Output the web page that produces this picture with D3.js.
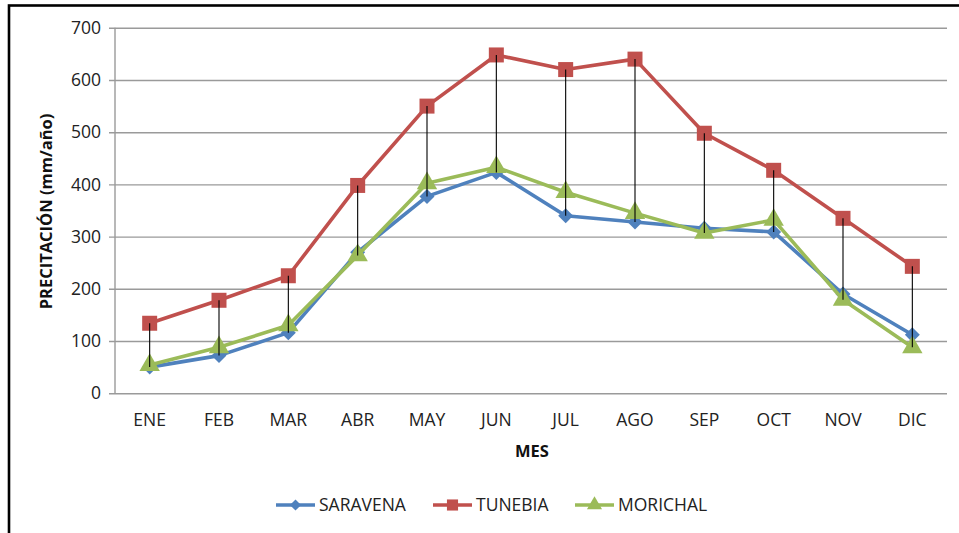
<!DOCTYPE html>
<html>
<head>
<meta charset="utf-8">
<script src="https://cdn.jsdelivr.net/npm/d3@7/dist/d3.min.js"></script>
<style>
  html, body { margin: 0; padding: 0; background: #fff; }
  svg { display: block; font-family: "Open Sans", "Liberation Sans", sans-serif; }
</style>
</head>
<body>
<svg id="chart" width="959" height="533"></svg>
<script>
const months = ["ENE","FEB","MAR","ABR","MAY","JUN","JUL","AGO","SEP","OCT","NOV","DIC"];
const saravena = [50, 72, 116, 270, 377, 423, 340, 328, 316, 309, 190, 112];
const tunebia  = [134, 178, 225, 398, 550, 648, 620, 640, 498, 427, 335, 243];
const morichal = [54, 88, 130, 264, 402, 433, 385, 345, 307, 332, 179, 88];
const yTicks = [0, 100, 200, 300, 400, 500, 600, 700];
const seriesNames = ["SARAVENA", "TUNEBIA", "MORICHAL"];
const seriesColors = ["#4F81BD", "#C0504D", "#9BBB59"];
const seriesShapes = ["diamond", "square", "triangle"];

(function () {
const svg = d3.select("#chart");

// outer frame
svg.append("rect").attr("x", 9).attr("y", 5.5).attr("width", 1200).attr("height", 1200)
  .attr("fill", "none").attr("stroke", "#000").attr("stroke-width", 2.6);

const pLeft = 115, pRight = 947, pTop = 27.8, pBottom = 393.2;
const x = d3.scaleBand().domain(months).range([pLeft, pRight]).paddingInner(0).paddingOuter(0);
const y = d3.scaleLinear().domain([0, 700]).range([pBottom, pTop]);
const cx = m => x(m) + x.bandwidth() / 2;

// gridlines + y axis
const yAxis = d3.axisLeft(y).tickValues(yTicks).tickSize(-(pRight - pLeft)).tickPadding(14);
const gy = svg.append("g").attr("transform", `translate(${pLeft},0)`).call(yAxis);
gy.select(".domain").remove();
gy.selectAll(".tick line").attr("x1", -6).attr("stroke", "#9a9a9a").attr("stroke-width", 1.4);
gy.selectAll(".tick text").attr("font-size", 17.5).attr("fill", "#222")
  .attr("font-family", "'Open Sans', sans-serif");

// vertical axis line
svg.append("line").attr("x1", pLeft).attr("x2", pLeft).attr("y1", pTop).attr("y2", pBottom)
  .attr("stroke", "#9a9a9a").attr("stroke-width", 1.4);

// x axis labels
const xAxis = d3.axisBottom(x).tickSize(0).tickPadding(20);
const gx = svg.append("g").attr("transform", `translate(0,${pBottom})`).call(xAxis);
gx.select(".domain").remove();
gx.selectAll(".tick text").attr("font-size", 17.5).attr("fill", "#222")
  .attr("font-family", "'Open Sans', sans-serif");

// axis titles
svg.append("text").attr("x", 532).attr("y", 457).attr("text-anchor", "middle")
  .attr("font-size", 16.5).attr("font-weight", "bold").attr("fill", "#111").text("MES");
svg.append("text").attr("transform", `translate(52,${(pTop + pBottom) / 2 + 1}) rotate(-90)`)
  .attr("text-anchor", "middle").attr("font-size", 16.5).attr("font-weight", "bold")
  .attr("fill", "#111").text("PRECITACIÓN (mm/año)");

const allSeries = [saravena, tunebia, morichal];

function markerPath(shape, scale) {
  if (shape === "diamond") return d3.symbol().type(d3.symbolSquare).size(112 * scale)();
  if (shape === "square") return d3.symbol().type(d3.symbolSquare).size(225 * scale)();
  return d3.symbol().type(d3.symbolTriangle).size(180 * scale)();
}

allSeries.forEach((vals, i) => {
  const data = months.map((m, j) => ({ m, v: vals[j] }));
  svg.append("path").datum(data)
    .attr("fill", "none").attr("stroke", seriesColors[i]).attr("stroke-width", 3.6)
    .attr("stroke-linejoin", "round")
    .attr("d", d3.line().x(d => cx(d.m)).y(d => y(d.v)));
  svg.append("g").selectAll("path").data(data).join("path")
    .attr("transform", d => {
      const rot = seriesShapes[i] === "diamond" ? " rotate(45)" : "";
      return `translate(${cx(d.m)},${y(d.v)})${rot}`;
    })
    .attr("d", markerPath(seriesShapes[i], 1))
    .attr("fill", seriesColors[i]);
});

// high-low lines
svg.append("g").selectAll("line").data(months).join("line")
  .attr("x1", m => cx(m)).attr("x2", m => cx(m))
  .attr("y1", (m, j) => y(d3.max(allSeries, s => s[j])))
  .attr("y2", (m, j) => y(d3.min(allSeries, s => s[j])))
  .attr("stroke", "#000").attr("stroke-width", 1.1);

// legend
const legendX = [276, 433, 575];
seriesNames.forEach((name, i) => {
  const g = svg.append("g").attr("transform", `translate(${legendX[i]},505)`);
  g.append("line").attr("x1", 0).attr("x2", 39).attr("y1", 0).attr("y2", 0)
    .attr("stroke", seriesColors[i]).attr("stroke-width", 3.6);
  g.append("path")
    .attr("transform", seriesShapes[i] === "diamond" ? "translate(19.5,0) rotate(45)" : "translate(19.5,0)")
    .attr("d", markerPath(seriesShapes[i], 0.55))
    .attr("fill", seriesColors[i]);
  g.append("text").attr("x", 43).attr("y", 0).attr("dy", "0.36em")
    .attr("font-size", 17.5).attr("fill", "#222").text(name);
});
})();
</script>
</body>
</html>
